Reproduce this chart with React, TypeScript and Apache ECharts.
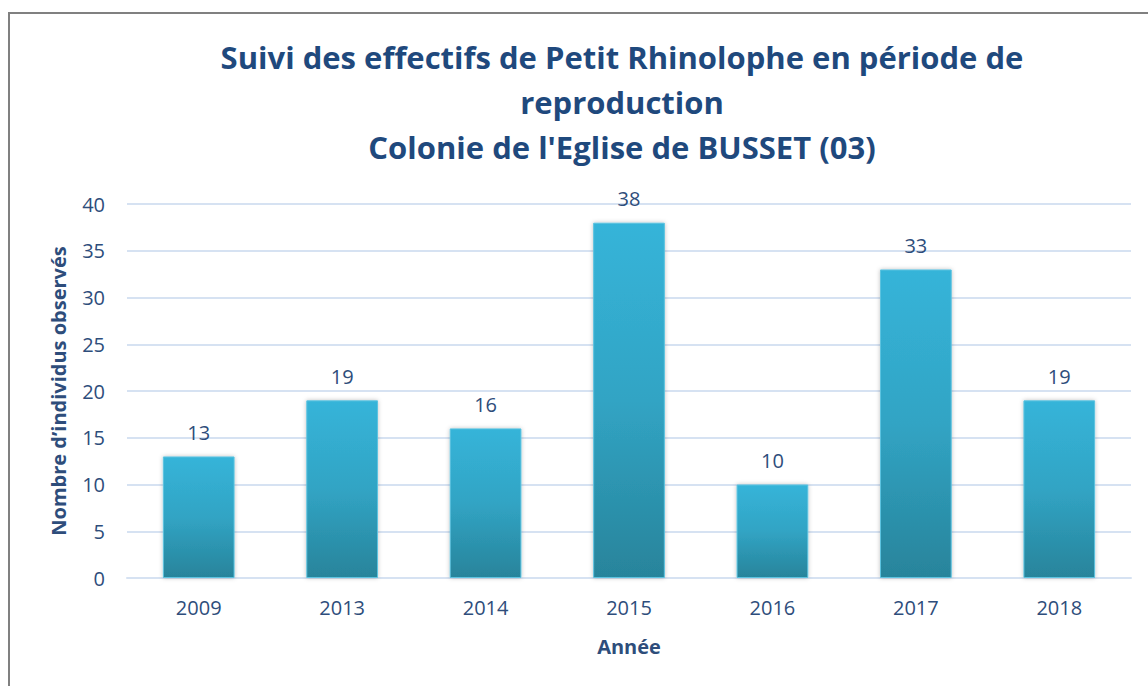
import React, { useEffect, useRef } from "react";
import * as echarts from "echarts";

const categories = ["2009", "2013", "2014", "2015", "2016", "2017", "2018"];
const values = [13, 19, 16, 38, 10, 33, 19];
const titleLines = [
  "Suivi des effectifs de Petit Rhinolophe en période de",
  "reproduction",
  "Colonie de l'Eglise de BUSSET (03)",
];

export default function App() {
  const ref = useRef<HTMLDivElement>(null);
  useEffect(() => {
    const chart = echarts.init(ref.current!, null, { renderer: "svg" });
    const font = "'Open Sans', 'Noto Sans', sans-serif";
    const textColor = "#2E4D7B";
    chart.setOption({
      animation: false,
      backgroundColor: "#ffffff",
      title: {
        text: titleLines.join("\n"),
        left: 622,
        textAlign: "center",
        top: 34,
        padding: 0,
        textStyle: {
          fontFamily: font,
          fontSize: 31,
          fontWeight: "bold",
          color: "#1F497D",
          lineHeight: 45,
        },
      },
      graphic: [
        {
          type: "rect",
          shape: { x: 9, y: 13, width: 1160, height: 700 },
          style: { fill: "none", stroke: "#808080", lineWidth: 2 },
          silent: true,
        },
      ],
      grid: { left: 127, right: 17, top: 204, bottom: 108, containLabel: false },
      xAxis: {
        type: "category",
        data: categories,
        name: "Année",
        nameLocation: "middle",
        nameGap: 58,
        nameTextStyle: { fontFamily: font, fontSize: 20, fontWeight: "bold", color: textColor },
        axisLine: { show: true, lineStyle: { color: "#D6E2F2", width: 2 } },
        axisTick: { show: false },
        axisLabel: { fontFamily: font, fontSize: 20, color: textColor, margin: 19 },
      },
      yAxis: {
        type: "value",
        min: 0,
        max: 40,
        interval: 5,
        name: "Nombre d\u2019individus observés",
        nameLocation: "middle",
        nameGap: 59,
        nameRotate: 90,
        nameTextStyle: { fontFamily: font, fontSize: 20, fontWeight: "bold", color: textColor },
        axisLine: { show: false },
        axisTick: { show: false },
        axisLabel: { fontFamily: font, fontSize: 20, color: textColor, margin: 22 },
        splitLine: { lineStyle: { color: "#D6E2F2", width: 2 } },
      },
      series: [
        {
          type: "bar",
          data: values,
          barWidth: "50%",
          itemStyle: {
            color: new echarts.graphic.LinearGradient(0, 0, 0, 1, [
              { offset: 0, color: "#36B4D9" },
              { offset: 0.5, color: "#31A4C4" },
              { offset: 1, color: "#28849B" },
            ]),
            borderColor: "#5BC3E0",
            borderWidth: 1,
            shadowColor: "rgba(0,0,0,0.25)",
            shadowBlur: 4,
          },
          label: {
            show: true,
            position: "top",
            distance: 14,
            fontFamily: font,
            fontSize: 20,
            color: textColor,
          },
        },
      ],
    });
    return () => chart.dispose();
  }, []);
  return (
    <div
      ref={ref}
      style={{ position: "fixed", left: 0, top: 0, width: 1148, height: 686 }}
    />
  );
}
